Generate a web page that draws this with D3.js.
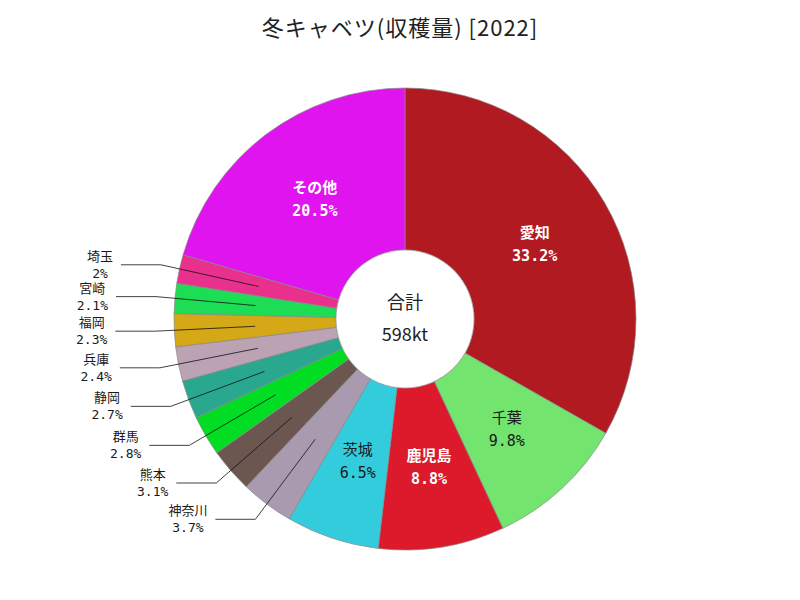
<!DOCTYPE html>
<html>
<head>
<meta charset="utf-8">
<script src="https://cdn.jsdelivr.net/npm/d3@7"></script>
<style>
  body { margin: 0; background: #fff; }
  text { font-family: "DejaVu Sans Mono", "Noto Sans CJK JP", sans-serif; }
</style>
</head>
<body>
<div id="container"></div>
<script>
/* CONSTANTS AND GLOBALS */
const width = 800;
const height = 600;
const cx = 405, cy = 319;
const outerR = 231, innerR = 69;

/* DATA */
const title = "冬キャベツ(収穫量) [2022]";
const total = "598kt";
const prefs = ["愛知", "千葉", "鹿児島", "茨城", "神奈川", "熊本", "群馬", "静岡", "兵庫", "福岡", "宮崎", "埼玉", "その他"];
const shares = [33.2, 9.8, 8.8, 6.5, 3.7, 3.1, 2.8, 2.7, 2.4, 2.3, 2.1, 2, 20.5];
const colors = ["#b01a20", "#73e56f", "#dc1a2c", "#33ccdd", "#aa9ab0", "#6b5650", "#00dd22", "#2aa88f", "#bba3b3", "#d4a816", "#1ddd55", "#e8308c", "#e014ee"];
const insideLabels = ["愛知", "千葉", "鹿児島", "茨城", "その他"];
const whiteLabels = ["愛知", "鹿児島", "その他"];

const data = prefs.map((p, i) => ({ name: p, share: shares[i], color: colors[i] }));

const svg = d3.select("#container").append("svg")
  .attr("width", width)
  .attr("height", height);

svg.append("text")
  .attr("x", width / 2)
  .attr("y", 36)
  .attr("text-anchor", "middle")
  .style("font-family", "'Noto Sans CJK JP', sans-serif")
  .style("font-size", "22px")
  .style("letter-spacing", "1px")
  .attr("fill", "#222")
  .text(title);

const pie = d3.pie().value(d => d.share).sort(null);
const arcs = pie(data);
const arc = d3.arc().innerRadius(innerR).outerRadius(outerR);
const midArc = d3.arc().innerRadius(150).outerRadius(150);
const elbowArc = d3.arc().innerRadius(250).outerRadius(250);

const g = svg.append("g").attr("transform", `translate(${cx},${cy})`);

g.selectAll("path.slice")
  .data(arcs)
  .join("path")
  .attr("class", "slice")
  .attr("d", arc)
  .attr("fill", d => d.data.color)
  .attr("stroke", "#888")
  .attr("stroke-width", 0.7);

g.append("circle")
  .attr("r", innerR)
  .attr("fill", "#fff")
  .attr("stroke", "#999")
  .attr("stroke-width", 0.7);

g.append("text")
  .attr("y", -10)
  .attr("text-anchor", "middle")
  .style("font-family", "'Noto Sans CJK JP', sans-serif")
  .style("font-size", "18px")
  .attr("fill", "#222")
  .text("合計");
g.append("text")
  .attr("y", 22)
  .attr("text-anchor", "middle")
  .style("font-family", "'Noto Sans CJK JP', sans-serif")
  .style("font-size", "18px")
  .attr("fill", "#222")
  .text(total);

// labels inside big slices
arcs.filter(d => insideLabels.includes(d.data.name)).forEach(d => {
  const [x, y] = midArc.centroid(d);
  const white = whiteLabels.includes(d.data.name);
  const t = g.append("text")
    .attr("text-anchor", "middle")
    .attr("fill", white ? "#fff" : "#1a1a1a")
    .style("font-size", "15px")
    .style("font-weight", white ? "bold" : "normal");
  t.append("tspan").attr("x", x).attr("y", y - 6).text(d.data.name);
  t.append("tspan").attr("x", x).attr("y", y + 17).text(d.data.share + "%");
});

// leader-line labels for small slices
arcs.filter(d => !insideLabels.includes(d.data.name)).forEach(d => {
  const p0 = midArc.centroid(d);
  const p1 = elbowArc.centroid(d);
  const p2 = [p1[0] - 40, p1[1]];
  g.append("polyline")
    .attr("points", [p0, p1, p2].map(p => p.join(",")).join(" "))
    .attr("fill", "none")
    .attr("stroke", "#111")
    .attr("stroke-width", 0.8);
  const t = g.append("text")
    .attr("text-anchor", "middle")
    .attr("fill", "#1a1a1a")
    .style("font-size", "13px");
  const a = t.append("tspan").attr("y", p2[1] - 4).text(d.data.name);
  const b = t.append("tspan").attr("y", p2[1] + 13).text(d.data.share + "%");
  const w = Math.max(a.node().getComputedTextLength(), b.node().getComputedTextLength());
  const x = p2[0] - 8 - w / 2;
  a.attr("x", x);
  b.attr("x", x);
});
</script>
</body>
</html>
